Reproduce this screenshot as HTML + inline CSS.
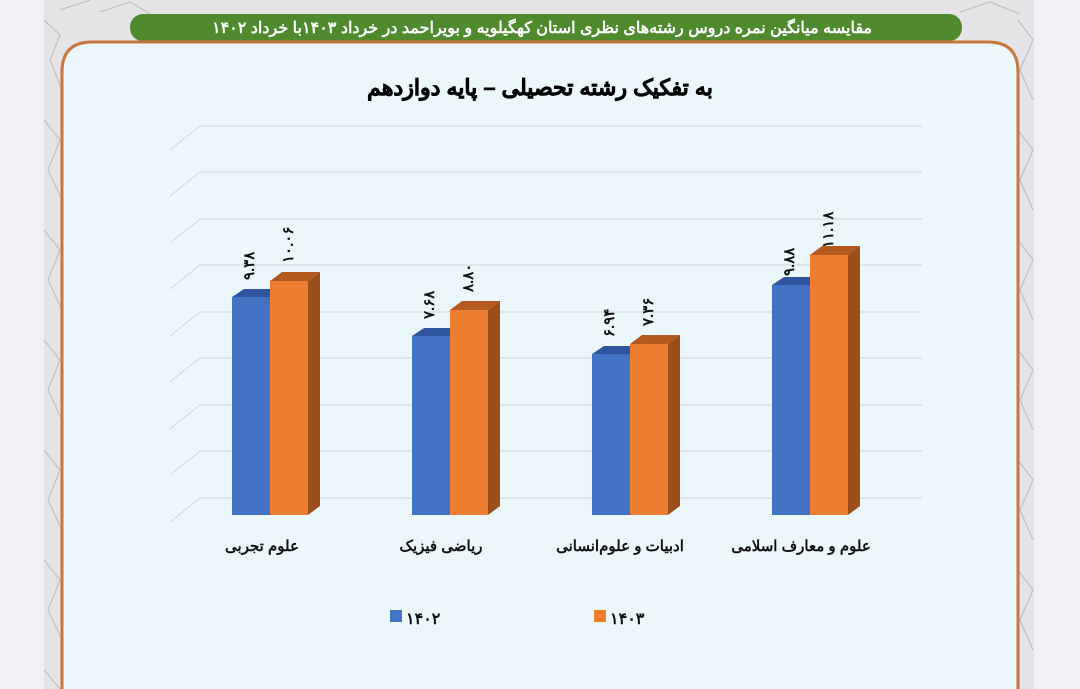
<!DOCTYPE html>
<html><head><meta charset="utf-8"><style>
html,body{margin:0;padding:0;width:1080px;height:689px;overflow:hidden;background:#f1f0f4;}
.n{direction:ltr;unicode-bidi:bidi-override;}
</style></head><body>
<svg width="1080" height="689" xmlns="http://www.w3.org/2000/svg" style="position:absolute;left:0;top:0;font-family:'Liberation Sans','Noto Sans CJK SC',sans-serif">
<rect x="0" y="0" width="1080" height="689" fill="#f1f0f4"/>
<rect x="44" y="0" width="990" height="689" fill="#e4e4e6"/>
<g stroke="#b9b9bd" stroke-width="1.3" fill="none" opacity="0.8">
<path d="M44 20 L60 35 L50 60 L62 90 M44 120 L60 140 L48 170 L62 200 M44 230 L60 250 L48 280 L62 310 M44 340 L60 360 L48 390 L62 420 M44 450 L60 470 L48 500 L62 530 M44 560 L60 580 L48 610 L62 640 M44 670 L60 689"/>
<path d="M1018 20 L1033 40 L1020 70 L1033 100 M1018 130 L1033 150 L1020 180 L1033 210 M1018 240 L1033 260 L1020 290 L1033 320 M1018 350 L1033 370 L1020 400 L1033 430 M1018 460 L1033 480 L1020 510 L1033 540 M1018 570 L1033 590 L1020 620 L1033 650"/>
<path d="M60 10 L90 0 M100 12 L130 2 L150 14 M960 12 L990 2 L1020 14"/>
</g>
<rect x="130" y="14" width="832" height="27" rx="13" fill="#4f8a2e"/>
<text x="542" y="33" font-size="16" font-weight="bold" fill="#fff" text-anchor="middle" direction="rtl">مقایسه میانگین نمره دروس رشته‌های نظری استان کهگیلویه و بویراحمد در خرداد ۱۴۰۳با  خرداد ۱۴۰۲</text>
<path d="M62 689 L62 72 Q62 42 92 42 L988 42 Q1018 42 1018 72 L1018 689" fill="#ecf7fc" stroke="#c8773c" stroke-width="3"/>
<text x="540" y="95" font-size="22" font-weight="bold" fill="#000" text-anchor="middle" direction="rtl" stroke="#000" stroke-width="0.6">به تفکیک رشته تحصیلی – پایه دوازدهم</text>
<g stroke="#d3dde2" stroke-width="1.2" fill="none">
<path d="M200 126 L922 126 M170 150 L200 126"/>
<path d="M200 172 L922 172 M170 196 L200 172"/>
<path d="M200 219 L922 219 M170 243 L200 219"/>
<path d="M200 265 L922 265 M170 289 L200 265"/>
<path d="M200 312 L922 312 M170 336 L200 312"/>
<path d="M200 358 L922 358 M170 382 L200 358"/>
<path d="M200 405 L922 405 M170 429 L200 405"/>
<path d="M200 451 L922 451 M170 475 L200 451"/>
<path d="M200 498 L922 498 M170 522 L200 498"/>
</g>
<g>
<polygon points="232,297 244,289 282,289 270,297" fill="#2f559e"/>
<rect x="232" y="297" width="38" height="218" fill="#4472c4"/>
<polygon points="270,281 282,272 320,272 308,281" fill="#b55a1f"/>
<polygon points="308,281 320,272 320,506 308,515" fill="#9b4d1a"/>
<rect x="270" y="281" width="38" height="234" fill="#ed7d31"/>
<polygon points="412,336 424,328 462,328 450,336" fill="#2f559e"/>
<rect x="412" y="336" width="38" height="179" fill="#4472c4"/>
<polygon points="450,310 462,301 500,301 488,310" fill="#b55a1f"/>
<polygon points="488,310 500,301 500,506 488,515" fill="#9b4d1a"/>
<rect x="450" y="310" width="38" height="205" fill="#ed7d31"/>
<polygon points="592,354 604,346 642,346 630,354" fill="#2f559e"/>
<rect x="592" y="354" width="38" height="161" fill="#4472c4"/>
<polygon points="630,344 642,335 680,335 668,344" fill="#b55a1f"/>
<polygon points="668,344 680,335 680,506 668,515" fill="#9b4d1a"/>
<rect x="630" y="344" width="38" height="171" fill="#ed7d31"/>
<polygon points="772,285 784,277 822,277 810,285" fill="#2f559e"/>
<rect x="772" y="285" width="38" height="230" fill="#4472c4"/>
<polygon points="810,255 822,246 860,246 848,255" fill="#b55a1f"/>
<polygon points="848,255 860,246 860,506 848,515" fill="#9b4d1a"/>
<rect x="810" y="255" width="38" height="260" fill="#ed7d31"/>
</g>
<g font-size="15" font-weight="bold" fill="#111">
<text class="n" transform="translate(254,280) rotate(-90)">۹.۳۸</text>
<text class="n" transform="translate(293,263) rotate(-90)">۱۰.۰۶</text>
<text class="n" transform="translate(434,319) rotate(-90)">۷.۶۸</text>
<text class="n" transform="translate(473,292) rotate(-90)">۸.۸۰</text>
<text class="n" transform="translate(614,337) rotate(-90)">۶.۹۴</text>
<text class="n" transform="translate(653,326) rotate(-90)">۷.۳۶</text>
<text class="n" transform="translate(794,276) rotate(-90)">۹.۸۸</text>
<text class="n" transform="translate(833,248) rotate(-90)">۱۱.۱۸</text>
</g>
<g font-size="15" font-weight="bold" fill="#111" text-anchor="middle" direction="rtl">
<text x="262" y="551">علوم تجربی</text>
<text x="441" y="551">ریاضی فیزیک</text>
<text x="620" y="551">ادبیات و علوم‌انسانی</text>
<text x="801" y="551">علوم و معارف اسلامی</text>
</g>
<rect x="390" y="610" width="12" height="12" fill="#4472c4"/>
<text x="406" y="624" font-size="16" font-weight="bold" fill="#111">۱۴۰۲</text>
<rect x="594" y="610" width="12" height="12" fill="#ed7d31"/>
<text x="610" y="624" font-size="16" font-weight="bold" fill="#111">۱۴۰۳</text>
</svg>
</body></html>
